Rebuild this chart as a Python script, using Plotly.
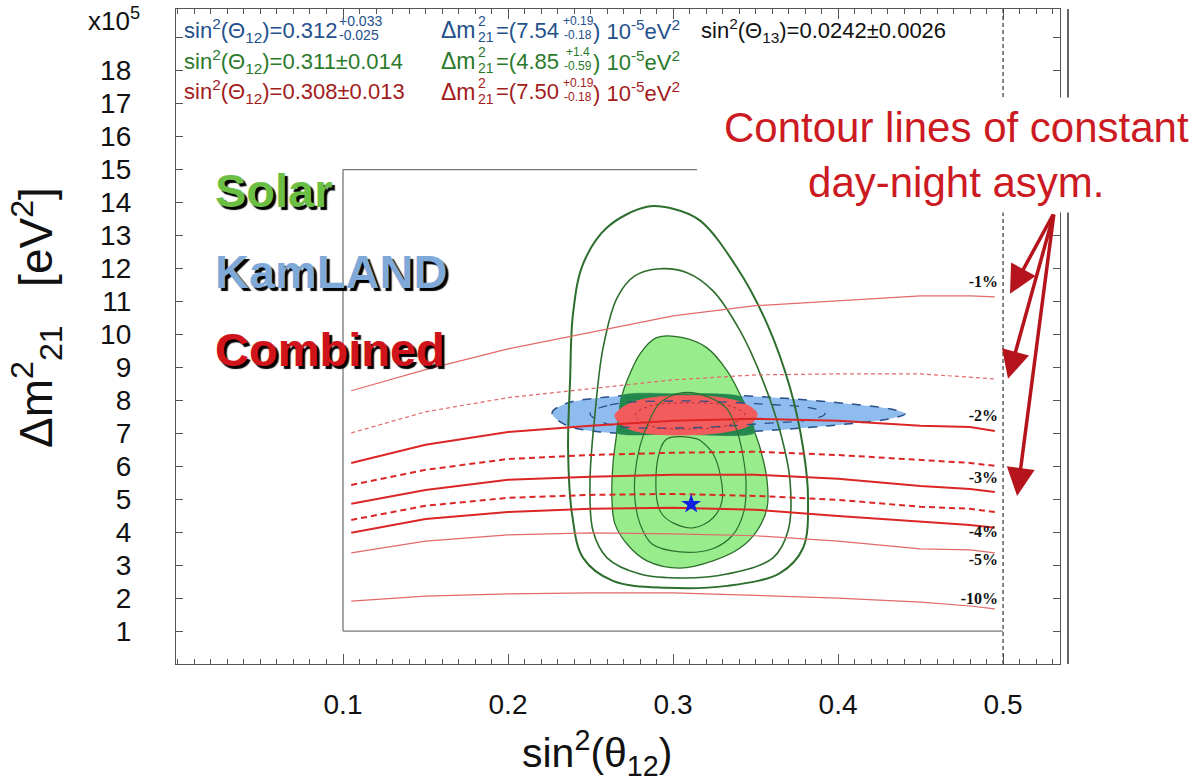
import plotly.graph_objects as go

# ---------------- data ----------------
# day-night asymmetry contour lines (x grid shared)
asym_x = [0.105, 0.15, 0.2, 0.25, 0.3, 0.35, 0.4, 0.45, 0.48, 0.495]
asym_m1 = [8.29, 8.93, 9.56, 10.05, 10.56, 10.87, 11.02, 11.17, 11.17, 11.14]
asym_m1p5 = [7.01, 7.65, 8.08, 8.35, 8.62, 8.77, 8.80, 8.80, 8.71, 8.65]
asym_m2 = [6.10, 6.65, 7.04, 7.23, 7.38, 7.44, 7.38, 7.23, 7.19, 7.07]
asym_m2p5 = [5.43, 5.89, 6.22, 6.34, 6.41, 6.44, 6.34, 6.19, 6.10, 6.01]
asym_m3 = [4.86, 5.28, 5.59, 5.68, 5.74, 5.74, 5.62, 5.40, 5.31, 5.22]
asym_m3p5 = [4.37, 4.80, 5.04, 5.13, 5.16, 5.10, 4.98, 4.77, 4.71, 4.61]
asym_m4 = [3.98, 4.40, 4.61, 4.71, 4.74, 4.68, 4.49, 4.31, 4.22, 4.13]
asym_m5 = [3.37, 3.73, 3.92, 3.98, 3.95, 3.89, 3.73, 3.49, 3.46, 3.37]
asym_m10 = [1.91, 2.06, 2.13, 2.16, 2.16, 2.09, 2.00, 1.88, 1.76, 1.67]

asym_labels = ["-1%", "-2%", "-3%", "-4%", "-5%", "-10%"]
asym_label_x = [0.4970, 0.4970, 0.4970, 0.4970, 0.4970, 0.4970]
asym_label_y = [11.57, 7.50, 5.62, 3.98, 3.13, 1.94]

# solar allowed region (filled) and contour lines
solar_fill_x = [0.290, 0.306, 0.3206, 0.3327, 0.3424, 0.3485, 0.3527, 0.3570, 0.3570, 0.3509, 0.3406,
                0.3242, 0.3042, 0.2842, 0.2721, 0.2648, 0.2630, 0.2636, 0.2661, 0.2691, 0.2721, 0.2800]
solar_fill_y = [9.90, 9.90, 9.59, 8.90, 7.98, 7.16, 6.56, 5.56, 4.74, 4.04, 3.52,
                3.13, 2.91, 3.13, 3.64, 4.25, 4.95, 6.07, 7.07, 8.14, 8.59, 9.41]

solar_c1_x = [0.2964, 0.3145, 0.3182, 0.3242, 0.3285, 0.3297, 0.3242, 0.3121, 0.3000, 0.2933, 0.2903, 0.2909]
solar_c1_y = [6.83, 6.83, 6.71, 6.38, 5.77, 4.95, 4.43, 4.13, 4.28, 4.55, 4.95, 6.25]

solar_c2_x = [0.3061, 0.3224, 0.3327, 0.3388, 0.3424, 0.3442, 0.3430, 0.3358, 0.3236, 0.3042, 0.2873,
              0.2800, 0.2770, 0.2770, 0.2800, 0.2848, 0.2921]
solar_c2_y = [8.23, 8.08, 7.74, 7.07, 6.31, 5.56, 4.64, 3.89, 3.49, 3.40, 3.64,
              4.25, 4.95, 5.77, 6.62, 7.29, 7.92]

solar_c3_x = [0.2921, 0.3085, 0.3242, 0.3406, 0.3545, 0.3648, 0.3709, 0.3697, 0.3606, 0.3327, 0.3061,
              0.2800, 0.2600, 0.2515, 0.2497, 0.2527, 0.2576, 0.2661, 0.2770]
solar_c3_y = [11.99, 11.87, 11.32, 10.11, 8.59, 7.07, 5.56, 4.04, 3.22, 2.73, 2.61,
              2.73, 3.22, 4.04, 5.56, 7.59, 9.59, 11.11, 11.78]

solar_c4_x = [0.2842, 0.3000, 0.3164, 0.3388, 0.3570, 0.3709, 0.3788, 0.3818, 0.3788, 0.3648, 0.3327,
              0.2964, 0.2636, 0.2455, 0.2388, 0.2364, 0.2376, 0.2394, 0.2455, 0.2600]
solar_c4_y = [13.87, 13.81, 13.45, 12.02, 10.32, 8.38, 6.56, 5.04, 3.52, 2.76, 2.37,
              2.31, 2.52, 3.22, 4.55, 6.56, 8.59, 10.63, 12.14, 13.24]

# KamLAND region
kam_x = [0.2267, 0.2345, 0.2558, 0.3000, 0.3527, 0.4073, 0.4315, 0.4406, 0.4315, 0.4073, 0.3527,
         0.3000, 0.2558, 0.2345]
kam_y = [7.62, 7.89, 8.08, 8.20, 8.11, 7.89, 7.74, 7.59, 7.44, 7.29, 7.07,
         6.98, 7.04, 7.26]
kam_in_x = [0.2497, 0.2618, 0.3042, 0.3527, 0.3861, 0.3921, 0.3861, 0.3527, 0.3042, 0.2618]
kam_in_y = [7.59, 7.86, 7.98, 7.89, 7.74, 7.59, 7.44, 7.29, 7.16, 7.26]

# overlap of solar and KamLAND
over_x = [0.2691, 0.3000, 0.3406, 0.3455, 0.3491, 0.3000, 0.2661, 0.2673]
over_y = [8.14, 8.20, 8.11, 7.68, 7.01, 6.98, 7.01, 7.53]

# combined region
comb_x = [0.2648, 0.2709, 0.2830, 0.3061, 0.3285, 0.3436, 0.3509, 0.3467, 0.3315, 0.3061, 0.2830, 0.2709]
comb_y = [7.53, 7.83, 8.04, 8.14, 8.08, 7.89, 7.59, 7.26, 7.04, 6.95, 7.01, 7.19]
comb_in_x = [0.2770, 0.2860, 0.3103, 0.3345, 0.3436, 0.3345, 0.3103, 0.2860]
comb_in_y = [7.56, 7.83, 7.92, 7.83, 7.56, 7.26, 7.13, 7.23]

best_x = [0.311]
best_y = [4.85]

x_tickvals = [0.1, 0.2, 0.3, 0.4, 0.5]
x_ticktext = ["0.1", "0.2", "0.3", "0.4", "0.5"]
y_tickvals = list(range(1, 20))
y_ticktext = [str(v) for v in range(1, 19)] + [""]

arrow_heads_x = [0.5042, 0.5030, 0.5085]
arrow_heads_y = [11.23, 8.65, 5.10]

# ---------------- layout geometry ----------------
W, H = 1194, 784
ML, MR, MT, MB = 176, 134, 9, 120
PW = W - ML - MR
PH = H - MT - MB
XR = [-0.0012, 0.5345]
YR = [0, 19.87]


def pxx(x):
    return (x - ML) / PW


def pxy(y):
    return 1 - (y - MT) / PH


def closed(a):
    return list(a) + [a[0]]


FONT = "Liberation Sans, Arial, sans-serif"

fig = go.Figure()

# KamLAND filled
fig.add_trace(go.Scatter(x=closed(kam_x), y=closed(kam_y), mode="lines", fill="toself",
                         fillcolor="#8fbcee", line=dict(color="#2b4f86", width=1.5, dash="dash",
                                                        shape="spline", smoothing=1.0),
                         hoverinfo="skip"))
# Solar filled
fig.add_trace(go.Scatter(x=closed(solar_fill_x), y=closed(solar_fill_y), mode="lines", fill="toself",
                         fillcolor="#98ec8c", line=dict(color="#2d6e2d", width=1.3,
                                                        shape="spline", smoothing=1.0),
                         hoverinfo="skip"))
# overlap
fig.add_trace(go.Scatter(x=closed(over_x), y=closed(over_y), mode="lines", fill="toself",
                         fillcolor="#23874e", line=dict(color="#23874e", width=0.5,
                                                        shape="spline", smoothing=0.6),
                         hoverinfo="skip"))
# combined
fig.add_trace(go.Scatter(x=closed(comb_x), y=closed(comb_y), mode="lines", fill="toself",
                         fillcolor="#f25c5c", line=dict(color="#f25c5c", width=1,
                                                        shape="spline", smoothing=1.0),
                         hoverinfo="skip"))
fig.add_trace(go.Scatter(x=closed(kam_in_x), y=closed(kam_in_y), mode="lines",
                         line=dict(color="#2b4f86", width=1.3, dash="dash", shape="spline", smoothing=1.0),
                         hoverinfo="skip"))
fig.add_trace(go.Scatter(x=closed(comb_in_x), y=closed(comb_in_y), mode="lines",
                         line=dict(color="#b03040", width=1.0, dash="dot", shape="spline", smoothing=1.0),
                         hoverinfo="skip"))

# solar contour lines
for cx, cy, w in [(solar_c1_x, solar_c1_y, 1.2), (solar_c2_x, solar_c2_y, 1.2),
                  (solar_c3_x, solar_c3_y, 1.6), (solar_c4_x, solar_c4_y, 2.0)]:
    fig.add_trace(go.Scatter(x=closed(cx), y=closed(cy), mode="lines",
                             line=dict(color="#2d6e2d", width=w, shape="spline", smoothing=1.0),
                             hoverinfo="skip"))

# asymmetry lines
asym_styles = [
    (asym_m1, "#e26a6a", 1.2, "solid"),
    (asym_m1p5, "#e26a6a", 1.2, "4px,3px"),
    (asym_m2, "#dc2626", 2.0, "solid"),
    (asym_m2p5, "#dc2626", 2.0, "6px,4px"),
    (asym_m3, "#dc2626", 2.0, "solid"),
    (asym_m3p5, "#dc2626", 2.0, "6px,4px"),
    (asym_m4, "#dc2626", 2.0, "solid"),
    (asym_m5, "#e26a6a", 1.2, "solid"),
    (asym_m10, "#e26a6a", 1.2, "solid"),
]
for ys, col, w, d in asym_styles:
    fig.add_trace(go.Scatter(x=asym_x, y=ys, mode="lines",
                             line=dict(color=col, width=w, dash=d), hoverinfo="skip"))

fig.add_trace(go.Scatter(x=asym_label_x, y=asym_label_y, mode="text", text=asym_labels,
                         textposition="middle left",
                         textfont=dict(family="Liberation Serif, Times New Roman, serif", size=16,
                                       color="#111111", weight="bold"),
                         hoverinfo="skip"))

fig.add_trace(go.Scatter(x=best_x, y=best_y, mode="markers",
                         marker=dict(symbol="star", size=15, color="#1020e0",
                                     line=dict(color="#1020e0", width=0)),
                         hoverinfo="skip"))

# ---------------- shapes ----------------
shapes = [
    dict(type="line", x0=0.1, x1=0.1, y0=1, y1=15, line=dict(color="#777777", width=1.3)),
    dict(type="line", x0=0.1, x1=0.3145, y0=15, y1=15, line=dict(color="#777777", width=1.3)),
    dict(type="line", x0=0.1, x1=0.5, y0=1, y1=1, line=dict(color="#777777", width=1.3)),
    dict(type="line", x0=0.5, x1=0.5, yref="paper", y0=0, y1=1,
         line=dict(color="#444444", width=1.3, dash="4px,3px")),
    dict(type="line", xref="paper", yref="paper", x0=pxx(1068), x1=pxx(1068), y0=0, y1=1,
         line=dict(color="#333333", width=1.5)),
]

# ---------------- annotations ----------------
ann = []


def txt(text, x, y, size, color, xanchor="left", family=FONT, **kw):
    d = dict(text=text, x=pxx(x), y=pxy(y), xref="paper", yref="paper", showarrow=False,
             xanchor=xanchor, yanchor="middle", borderpad=0,
             font=dict(family=family, size=size, color=color))
    d.update(kw)
    ann.append(d)


rows = [
    ("#24508c", "0.312", ("+0.033", "-0.025"), "7.54", ("+0.19", "-0.18"), 30),
    ("#2b7a2b", "0.311±0.014", None, "4.85", ("+1.4", "-0.59"), 61),
    ("#a31c1c", "0.308±0.013", None, "7.50", ("+0.19", "-0.18"), 92),
]
for col, s12, s12err, dm, dmerr, yy in rows:
    txt("sin<sup>2</sup>(Θ<sub>12</sub>)=" + s12, 183, yy, 22, col)
    if s12err:
        txt(s12err[0], 338, yy - 9, 14, col)
        txt(s12err[1], 338, yy + 5, 14, col)
    txt("Δm", 440, yy, 23, col)
    txt("2", 477, yy - 9, 14, col)
    txt("21", 477, yy + 7, 14, col)
    txt("=(" + dm, 495, yy, 22, col)
    txt(dmerr[0], 578, yy - 9, 12, col, xanchor="center")
    txt(dmerr[1], 578, yy + 5, 12, col, xanchor="center")
    txt(") 10<sup>-5</sup>eV<sup>2</sup>", 592, yy, 22, col)

txt("sin<sup>2</sup>(Θ<sub>13</sub>)=0.0242±0.0026", 700, 30, 22, "#111111")
txt("x10<sup>5</sup>", 87, 20, 26, "#111111")

# axis titles
txt("sin<sup>2</sup>(θ<sub>12</sub>)", 597, 753, 41, "#111111", xanchor="center")
txt("Δm<sup>2</sup><sub>21</sub>\u00a0\u00a0\u00a0[eV<sup>2</sup>]", 36, 318, 46, "#111111",
    xanchor="center", textangle=-90)

# big labels
for word, col, yy in [("Solar", "#6cbf45", 190), ("KamLAND", "#7fa9d9", 271), ("Combined", "#d0141c", 349)]:
    ann.append(dict(text="<b>" + word + "</b>", x=pxx(213), y=pxy(yy), xref="paper", yref="paper",
                    showarrow=False, xanchor="left", yanchor="middle",
                    font=dict(family=FONT, size=47, color=col, shadow="3px 3px 1px #000000")))

# red annotation
ann.append(dict(text="Contour lines of constant<br>day-night asym.", x=pxx(956), y=pxy(155),
                xref="paper", yref="paper", showarrow=False, xanchor="center", yanchor="middle",
                align="center", bgcolor="#ffffff", borderpad=6,
                font=dict(family=FONT, size=42, color="#cc1a22")))

tail = (1054, 213)
for hx, hy in zip(arrow_heads_x, arrow_heads_y):
    hpx = ML + (hx - XR[0]) / (XR[1] - XR[0]) * PW
    hpy = MT + (1 - (hy - YR[0]) / (YR[1] - YR[0])) * PH
    ann.append(dict(text="", x=hx, y=hy, xref="x", yref="y", showarrow=True,
                    ax=tail[0] - hpx, ay=tail[1] - hpy, axref="pixel", ayref="pixel",
                    arrowhead=2, arrowsize=1.6, arrowwidth=3.5, arrowcolor="#b5141c", standoff=0))

fig.update_layout(
    width=W, height=H,
    margin=dict(l=ML, r=MR, t=MT, b=MB, autoexpand=False),
    paper_bgcolor="#ffffff", plot_bgcolor="#ffffff",
    showlegend=False,
    shapes=shapes, annotations=ann,
    font=dict(family=FONT, color="#111111"),
)
fig.update_xaxes(range=XR, showgrid=False, zeroline=False,
                 showline=True, linecolor="#555555", linewidth=1.3, mirror="ticks",
                 tickmode="array", tickvals=x_tickvals, ticktext=x_ticktext,
                 ticks="inside", ticklen=10, tickcolor="#555555", tickwidth=1,
                 tickfont=dict(family=FONT, size=28, color="#111111"), ticklabelstandoff=15,
                 minor=dict(tickmode="array", tickvals=[i / 100 for i in range(0, 54)],
                            ticks="inside", ticklen=5, tickcolor="#555555", tickwidth=1))
fig.update_yaxes(range=YR, showgrid=False, zeroline=False,
                 showline=True, linecolor="#555555", linewidth=1.3, mirror="ticks",
                 tickmode="array", tickvals=y_tickvals, ticktext=y_ticktext,
                 ticks="inside", ticklen=7, tickcolor="#555555", tickwidth=1,
                 tickfont=dict(family=FONT, size=28, color="#111111"), ticklabelstandoff=38)

fig.write_html("out.html")
